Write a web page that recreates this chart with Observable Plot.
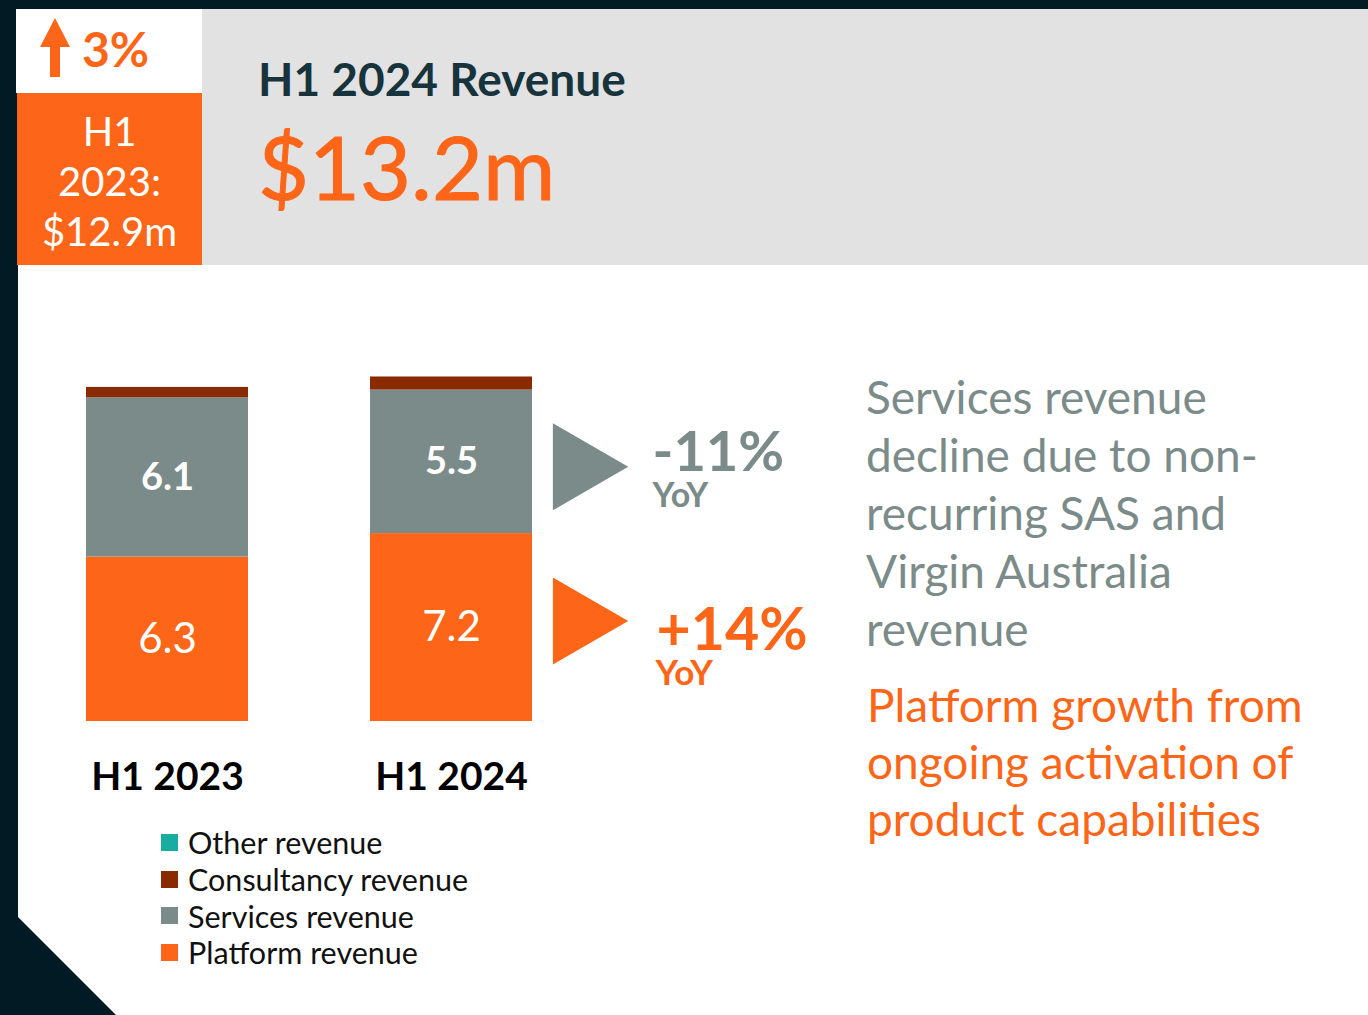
<!DOCTYPE html>
<html>
<head>
<meta charset="utf-8">
<script src="https://cdn.jsdelivr.net/npm/d3@7"></script>
<script src="https://cdn.jsdelivr.net/npm/@observablehq/plot@0.6"></script>
<style>
  html, body { margin:0; padding:0; }
  body { width:1368px; height:1015px; background:#011a24; position:relative; overflow:hidden; font-family:Lato, sans-serif; }
  .abs { position:absolute; }
  #panel { left:18px; top:9px; width:1350px; height:1006px; background:#fff;
    clip-path: polygon(0 0, 100% 0, 100% 100%, 98px 100%, 0 908px); }
  #band { left:202px; top:9px; width:1166px; height:256px; background:#e2e2e2; }
  #wbox { left:16px; top:9px; width:186px; height:84px; background:#fff; }
  #obox { left:17px; top:93px; width:185px; height:172px; background:#fd6618; }
  #pct { left:82px; top:25px; font-size:48px; font-weight:700; color:#fd6618; line-height:1; }
  #prev { left:17px; top:106px; width:185px; text-align:center; color:#fff; font-size:40px; line-height:50px; }
  #title { left:258px; top:56px; font-size:46px; font-weight:700; color:#17343d; line-height:1; white-space:nowrap; }
  #big { left:258px; top:122px; font-size:88px; color:#fd6618; line-height:1; white-space:nowrap; -webkit-text-stroke:1px #fd6618; }
  #note1 { left:866px; top:368px; font-size:46px; line-height:58px; color:#7b8b89; white-space:nowrap; }
  #note2 { left:867px; top:676px; font-size:46px; line-height:57px; color:#fd6618; white-space:nowrap; }
  #chart { left:0; top:0; }
  #legend { left:161px; top:824px; }
  .lg-swatches { margin:0 !important; }
  .lg-swatches-wrap { flex-direction:column !important; align-items:flex-start !important; min-height:0 !important; }
  .lg-swatch { height:36.7px; margin:0 !important; font-size:30.5px; color:#111; }
  .lg-swatch > svg { margin-right:10px !important; }
</style>
</head>
<body>
<div id="panel" class="abs"></div>
<div id="band" class="abs"></div>
<div id="wbox" class="abs"></div>
<div id="obox" class="abs"></div>
<svg class="abs" style="left:0;top:0" width="100" height="90">
  <polygon points="40,47 55,18 70,47 60,47 60,77 50,77 50,47" fill="#fd6618"></polygon>
</svg>
<div id="pct" class="abs">3%</div>
<div id="prev" class="abs">H1<br>2023:<br>$12.9m</div>
<div id="title" class="abs">H1 2024 Revenue</div>
<div id="big" class="abs">$13.2m</div>
<div id="note1" class="abs">Services revenue<br>decline due to non-<br>recurring SAS and<br>Virgin Australia<br>revenue</div>
<div id="note2" class="abs">Platform growth from<br>ongoing activation of<br>product capabilities</div>
<div id="chart" class="abs"></div>
<div id="legend" class="abs"></div>
<script>
// ---- data ----
const periods = ["H1 2023", "H1 2024"];
const types = ["Platform revenue", "Services revenue", "Consultancy revenue", "Other revenue"];
const platform = [6.3, 7.2];
const services = [6.1, 5.5];
const consultancy = [0.4, 0.5];
const other = [0, 0];
const legendOrder = ["Other revenue", "Consultancy revenue", "Services revenue", "Platform revenue"];
const legendColors = ["#19ada1", "#8a2a00", "#7b8b89", "#fd6618"];
const yoyServices = "-11%";
const yoyPlatform = "+14%";

const series = [platform, services, consultancy, other];
const rows = periods.flatMap((p, i) => types.map((t, j) => ({period: p, type: t, value: series[j][i]})));

function midOf(period, type) {
  let acc = 0;
  for (const r of rows.filter(r => r.period === period)) {
    if (r.type === type) return acc + r.value / 2;
    acc += r.value;
  }
  return 0;
}
const annServ = [{period: "H1 2024", mid: midOf("H1 2024", "Services revenue"), label: yoyServices}];
const annPlat = [{period: "H1 2024", mid: midOf("H1 2024", "Platform revenue"), label: yoyPlatform}];

const gray = "#7b8b89", orange = "#fd6618";

const chart = Plot.plot({
  width: 840,
  height: 1015,
  marginTop: 355.6,
  marginBottom: 294,
  marginLeft: 0,
  marginRight: 0,
  x: {domain: periods, range: [85, 533], paddingInner: 0.428, paddingOuter: 0, axis: null},
  y: {domain: [0, 14], axis: null},
  color: {domain: legendOrder, range: legendColors},
  style: {fontFamily: "Lato, sans-serif", background: "transparent", overflow: "visible"},
  marks: [
    Plot.barY(rows, Plot.stackY({x: "period", y: "value", fill: "type"})),
    Plot.text(rows, Plot.stackY({x: "period", y: "value",
      text: d => d.type === "Services revenue" ? d.value.toFixed(1) : "",
      fill: "white", fontSize: 38, fontWeight: 700})),
    Plot.text(rows, Plot.stackY({x: "period", y: "value",
      text: d => d.type === "Platform revenue" ? d.value.toFixed(1) : "",
      fill: "white", fontSize: 42})),
    Plot.axisX({tickSize: 0, tickPadding: 41, label: null, fontSize: 39, fontWeight: 700, fill: "#000"}),
    // YoY annotations
    Plot.dot(annServ, {x: "period", y: "mid", symbol: "triangle", rotate: 90, r: 32.3, fill: gray, stroke: "none", dx: 126.5, dy: 5}),
    Plot.dot(annPlat, {x: "period", y: "mid", symbol: "triangle", rotate: 90, r: 32.3, fill: orange, stroke: "none", dx: 126.5, dy: -6.5}),
    Plot.text(annServ, {x: "period", y: "mid", text: "label", textAnchor: "start", lineAnchor: "bottom", dx: 201, dy: 9.5, fill: gray, fontSize: 56, fontWeight: 700}),
    Plot.text(annServ, {x: "period", y: "mid", text: () => "YoY", textAnchor: "start", lineAnchor: "bottom", dx: 201, dy: 45, fill: gray, fontSize: 34, fontWeight: 700}),
    Plot.text(annPlat, {x: "period", y: "mid", text: "label", textAnchor: "start", lineAnchor: "bottom", dx: 205, dy: 22, fill: orange, fontSize: 59, fontWeight: 700}),
    Plot.text(annPlat, {x: "period", y: "mid", text: () => "YoY", textAnchor: "start", lineAnchor: "bottom", dx: 204, dy: 57, fill: orange, fontSize: 35, fontWeight: 700})
  ]
});
document.getElementById("chart").appendChild(chart);

const legend = Plot.legend({
  color: {domain: legendOrder, range: legendColors, type: "categorical"},
  swatchSize: 17,
  className: "lg",
  style: {fontFamily: "Lato, sans-serif", fontSize: "30px", color: "#111"}
});
document.getElementById("legend").appendChild(legend);
</script>
</body>
</html>
